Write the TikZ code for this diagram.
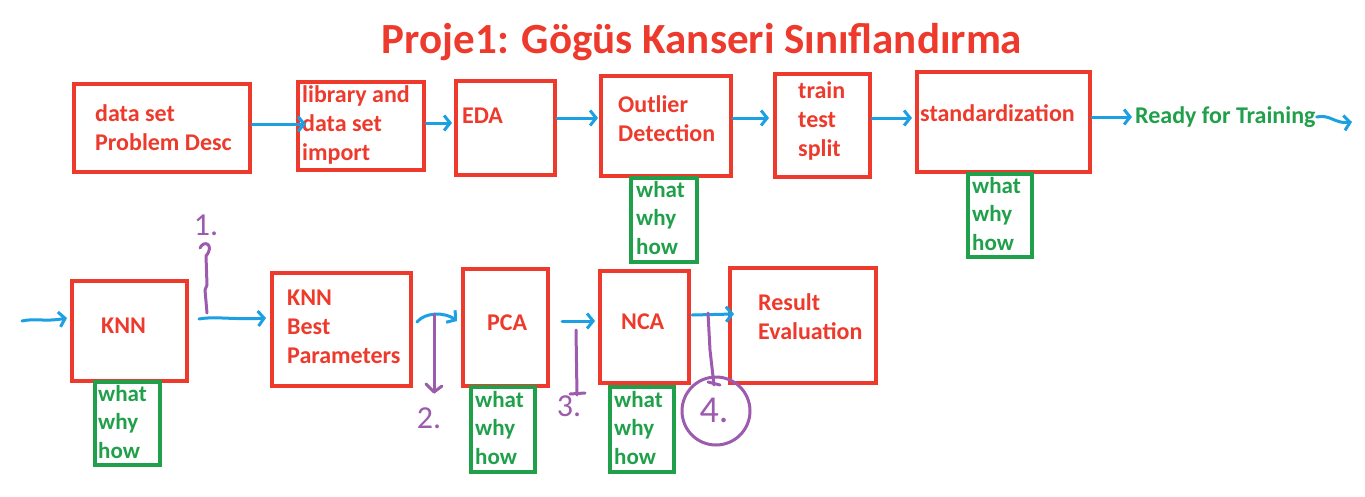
\documentclass[tikz,border=0pt]{standalone}
\usepackage{fontspec}
\setmainfont{Carlito}
\usetikzlibrary{arrows.meta}
\definecolor{bred}{HTML}{EE3A2C}
\definecolor{bgreen}{HTML}{20A04A}
\definecolor{bblue}{HTML}{1CA0E3}
\definecolor{bpurple}{HTML}{9C5BAE}
\tikzset{
  redbox/.style={draw=bred, line width=4pt, inner sep=0pt, anchor=north west},
  greenbox/.style={draw=bgreen, fill=white, line width=4pt, inner sep=0pt, anchor=north west},
  rtxt/.style={text=bred, font=\fontsize{24}{29}\selectfont\bfseries, align=left, inner sep=0pt, anchor=west},
  gtxt/.style={text=bgreen, font=\fontsize{23}{28.5}\selectfont\bfseries, align=left, inner sep=0pt, anchor=west},
  arr/.style={draw=bblue, line width=3pt, line cap=round, -{Straight Barb[length=6pt,width=15pt]}},
  parr/.style={draw=bpurple, line width=3pt, line cap=round, line join=round},
  ptxt/.style={text=bpurple, font=\fontsize{32}{32}\selectfont, inner sep=0pt},
}
\begin{document}
\begin{tikzpicture}[x=1pt,y=-1pt]
\useasboundingbox[fill=white] (0,0) rectangle (1365,496);
% title
\node[text=bred, font=\fontsize{43}{43}\selectfont\bfseries, inner sep=0pt] (title) at (702,42) {Proje1: Gögüs Kanseri Sınıflandırma};
% row 1 boxes
\node[redbox, minimum width=176pt, minimum height=88pt] (b1) at (72,82) {};
\node[redbox, minimum width=126pt, minimum height=88pt] (b2) at (296,80) {};
\node[redbox, minimum width=99pt, minimum height=94pt] (b3) at (454,79) {};
\node[redbox, minimum width=130pt, minimum height=100pt] (b4) at (599,74) {};
\node[redbox, minimum width=95pt, minimum height=103pt] (b5) at (773,72) {};
\node[redbox, minimum width=173pt, minimum height=100pt] (b6) at (915,70) {};
\node[rtxt] (t1) at (95,128) {data set\\Problem Desc};
\node[rtxt] (t2) at (302,125) {library and\\data set\\import};
\node[rtxt] (t3) at (462,116) {EDA};
\node[rtxt] (t4) at (618,119) {Outlier\\Detection};
\node[rtxt] (t5) at (798,121) {train\\test\\split};
\node[rtxt] (t6) at (920,113) {standardization};
\node[rtxt, text=bgreen] (ready) at (1135,117) {Ready for Training};
% green boxes row 1
\node[greenbox, minimum width=66pt, minimum height=84pt] (w1) at (629,176) {};
\node[gtxt] at (636,218) {what\\why\\how};
\node[greenbox, minimum width=64pt, minimum height=83pt] (w2) at (966,172) {};
\node[gtxt] at (972,214) {what\\why\\how};
% row 2 boxes
\node[redbox, minimum width=115pt, minimum height=100pt] (k1) at (70,279) {};
\node[redbox, minimum width=139pt, minimum height=113pt] (k2) at (270,271) {};
\node[redbox, minimum width=85pt, minimum height=117pt] (k3) at (461,267) {};
\node[redbox, minimum width=89pt, minimum height=112pt] (k4) at (598,269) {};
\node[redbox, minimum width=146pt, minimum height=115pt] (k5) at (728,266) {};
\node[rtxt] at (101,326) {KNN};
\node[rtxt] at (287,327) {KNN\\Best\\Parameters};
\node[rtxt] at (487,323) {PCA};
\node[rtxt] at (621,322) {NCA};
\node[rtxt] at (758,317) {Result\\Evaluation};
% green boxes row 2
\node[greenbox, minimum width=65pt, minimum height=83pt] (w3) at (93,380) {};
\node[gtxt] at (98,422) {what\\why\\how};
\node[greenbox, minimum width=64pt, minimum height=85pt] (w4) at (469,385) {};
\node[gtxt] at (475,428) {what\\why\\how};
\node[greenbox, minimum width=64pt, minimum height=85pt] (w5) at (608,385) {};
\node[gtxt] at (614,428) {what\\why\\how};
% arrows row 1
\draw[arr] (b1.east |- 0,124) -- ([xshift=10pt]b2.west |- 0,124);
\draw[arr] (b2.east |- 0,123) -- ([xshift=-2pt]b3.west |- 0,123);
\draw[arr] (b3.east |- 0,118) -- ([xshift=-1pt]b4.west |- 0,118);
\draw[arr] (b4.east |- 0,118) -- ([xshift=-4pt]b5.west |- 0,118);
\draw[arr] (b5.east |- 0,118) -- ([xshift=-3pt]b6.west |- 0,118);
\draw[arr] (b6.east |- 0,117) -- ([xshift=-3pt]ready.west);
\coordinate (end1) at (1352,122);
\draw[arr] ([xshift=1pt]ready.east) .. controls (1330,114) and (1335,124) .. (end1);
% arrows row 2
\coordinate (start2) at (22,321);
\draw[arr] (start2) .. controls (35,318) and (45,322) .. ([xshift=-3pt]k1.west |- 0,318);
\draw[arr] ([xshift=10pt]k1.east |- 0,319) .. controls (215,316) and (235,320) .. ([xshift=-4pt]k2.west |- 0,318);
\draw[arr] ([xshift=4pt]k2.east |- 0,322) .. controls (425,312) and (445,312) .. ([xshift=-4pt]k3.west |- 0,321);
\draw[arr] ([xshift=12pt]k3.east |- 0,321) -- ([xshift=-3pt]k4.west |- 0,321);
\draw[arr] ([xshift=1pt]k4.east |- 0,315) -- ([xshift=6pt]k5.west |- 0,314);
% purple annotations
\node[ptxt] (p1) at (206,225) {1.};
\draw[parr] (200,248) .. controls (204,239) and (215,245) .. (206,256) -- (207,285) -- (205,290) -- (207,313);
\node[ptxt] (p2) at (429,418) {2.};
\draw[parr] (434,314) -- (434,392);
\draw[parr] (426,384) -- (434,392) -- (442,386);
\node[ptxt] (p3) at (569,406) {3.};
\draw[parr] (576,330) -- (577,395);
\draw[parr] (570,394) -- (585,393);
\node[ptxt, font=\fontsize{38}{38}\selectfont] (p4) at (714,410) {4.};
\draw[parr] (716,411) circle[radius=34pt];
\draw[parr] (708,313) -- (710,350) -- (714,385);
\draw[parr] (708,382) -- (720,385);
\end{tikzpicture}
\end{document}
